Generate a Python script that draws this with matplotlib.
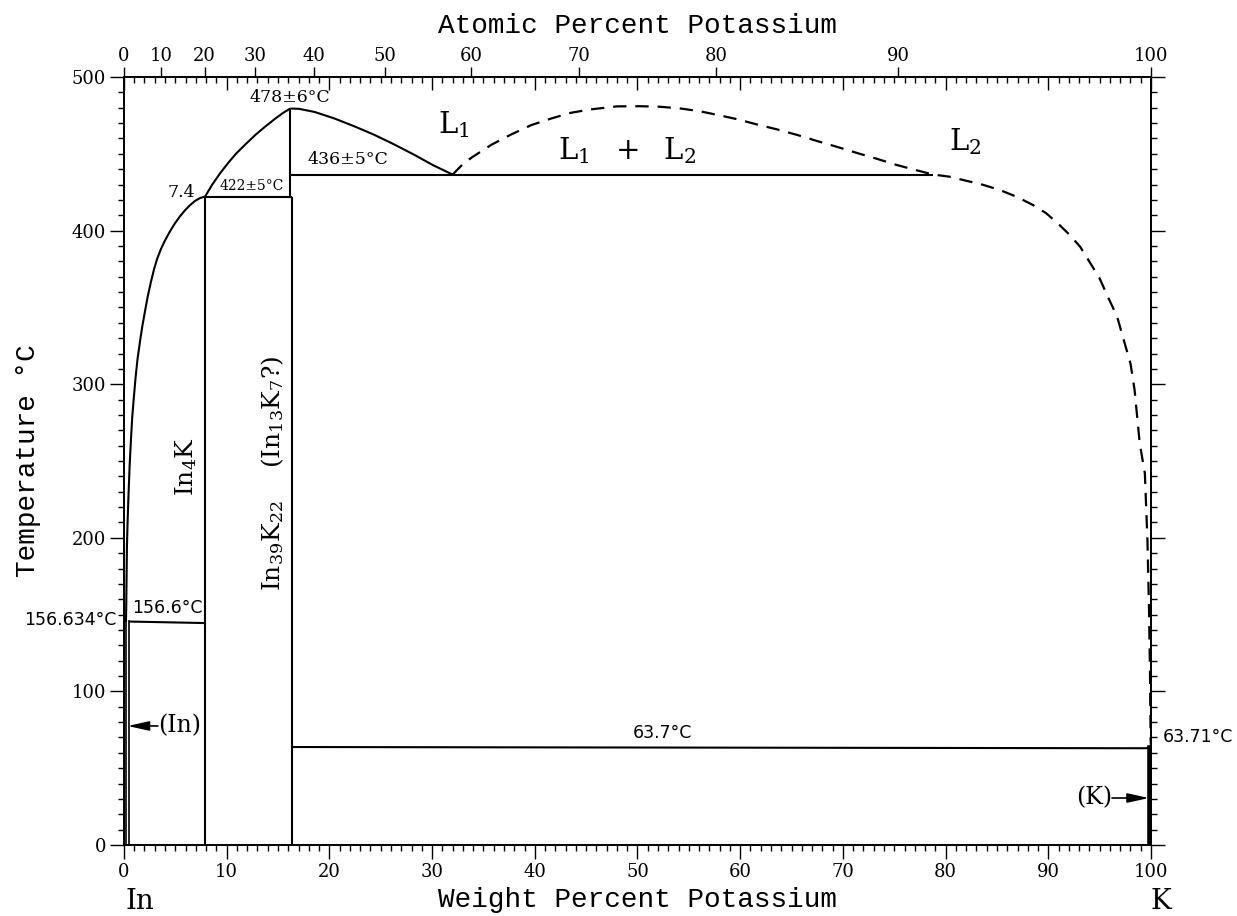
import numpy as np
import matplotlib
matplotlib.use("Agg")
import matplotlib.pyplot as plt

plt.rcParams['mathtext.fontset'] = 'dejavuserif'
plt.rcParams['font.family'] = 'DejaVu Serif'

# ---- data (wt% K, temperature C) ----
# In-rich liquidus up to the In13K7 maximum
liq_in_w = [0.2, 0.23, 0.26, 0.29, 0.36, 0.45, 0.55, 0.68, 0.81, 0.97, 1.14, 1.33, 1.56, 1.78,
            2.04, 2.31, 2.63, 2.95, 3.25, 3.6, 3.99, 4.48, 4.97, 5.45, 5.94, 6.43, 6.91, 7.4, 7.9,
            8.6, 9.39, 10.15, 10.9, 11.88, 12.84, 13.8, 14.75, 15.5, 16.2]
liq_in_t = [145.4, 159.5, 176.9, 194.2, 211.6, 229, 246.3, 263.7, 278.8, 291.9, 304.9, 316.8, 327.7, 337.4,
            347.2, 357, 366.7, 375.4, 382, 388, 393.5, 399.5, 404.8, 409.3, 413.2, 416.6, 419.3, 421.2, 422.2,
            430, 437.6, 444.1, 450, 456.5, 462.6, 468, 473, 476.7, 479.5]

# L1 from the maximum down to the monotectic
l1_w = [16.2, 17.05, 18.6, 20.5, 22.4, 24.3, 26.2, 28.2, 30.1, 32.0]
l1_t = [479.5, 479.3, 477.2, 473, 468, 462.6, 456.5, 449.6, 442.6, 436.5]

# miscibility gap and K-rich liquidus (dashed)
gap_w = [32.0, 32.95, 33.9, 35.8, 37.7, 39.65, 41.6, 43.5, 45.4, 48.0, 50.2, 52.1, 54.1, 56.0,
         57.9, 59.8, 61.7, 63.6, 65.6, 67.5, 69.4, 71.3, 73.2, 75.1, 77.0, 78.8, 80.4, 82.0,
         83.6, 85.3, 86.9, 88.5, 89.8, 91.1, 92.1, 93.1, 94.0, 95.0, 95.8, 96.7, 97.3, 98.0,
         98.4, 98.9, 99.4, 99.65, 99.8, 99.9, 99.96, 100]
gap_t = [436.5, 443, 447.8, 456, 462.6, 468.7, 473, 476.7, 478.9, 480.9, 481, 480.7, 479.6, 477.8,
         475.2, 472.4, 469, 465.9, 462.2, 458.3, 454.6, 450.7, 447, 443, 439.6, 436.5, 435.1, 432.5,
         429.9, 426.4, 422.1, 416.7, 411.3, 403.6, 397.1, 389.5, 379.8, 368.8, 356.9, 344, 329.8, 313.5,
         296.2, 261.5, 242, 198.6, 155, 111.6, 68.4, 63.7]

mono_w = [16.2, 78.8]
mono_t = [436.5, 436.5]
peri_w = [7.9, 16.4]
peri_t = [422.2, 422.2]
eut_w = [0.45, 7.9]
eut_t = [145.5, 144.5]
eut2_w = [16.4, 99.5, 99.85]
eut2_t = [63.8, 63.0, 63.7]

in4k_w = 7.9
in39k22_w = 16.4
in13k7_w = 16.2
in_ss_w = [0.18, 0.45]
in_ss_top = 146
k_w = 99.85
k_top = 63.7

atomic_ticks = [0, 10, 20, 30, 40, 50, 60, 70, 80, 90, 100]
M_K, M_IN = 39.098, 114.818


def at_to_wt(a):
    a = np.asarray(a, dtype=float)
    return 100 * a * M_K / (a * M_K + (100 - a) * M_IN)


fig = plt.figure(figsize=(12.37, 9.16), dpi=100)
ax = fig.add_axes([0.1002, 0.0775, 0.8303, 0.8384])
lw = 1.5
k = dict(color='black', lw=lw, solid_capstyle='butt', solid_joinstyle='round')

ax.plot(liq_in_w, liq_in_t, **k)
ax.plot(l1_w, l1_t, **k)
ax.plot(gap_w, gap_t, color='black', lw=1.6, dashes=(6, 4))
ax.plot(mono_w, mono_t, **k)
ax.plot(peri_w, peri_t, **k)
ax.plot(eut_w, eut_t, **k)
ax.plot(eut2_w, eut2_t, **k)
ax.plot([in4k_w, in4k_w], [0, 422.2], **k)
ax.plot([in39k22_w, in39k22_w], [0, 422.2], **k)
ax.plot([in13k7_w, in13k7_w], [422.2, 479.5], **k)
for w in in_ss_w:
    ax.plot([w, w], [0, in_ss_top], color='black', lw=1.2)
ax.plot([k_w, k_w], [0, k_top], color='black', lw=2.6)

# labels inside
serif = 'DejaVu Serif'
ax.text(16.2, 487, '478±6°C', ha='center', va='center', fontsize=12.5, family=serif)
ax.text(21.8, 446, '436±5°C', ha='center', va='center', fontsize=12.5, family=serif)
ax.text(12.4, 429, '422±5°C', ha='center', va='center', fontsize=10, family=serif)
ax.text(5.6, 425, '7.4', ha='center', va='center', fontsize=12.5, family=serif)
ax.text(32.1, 469, r'$\mathrm{L}_1$', ha='center', va='center', fontsize=21)
ax.text(49.0, 452, r'$\mathrm{L}_1\ \ +\ \ \mathrm{L}_2$', ha='center', va='center', fontsize=21)
ax.text(81.9, 458, r'$\mathrm{L}_2$', ha='center', va='center', fontsize=21)
ax.text(6.0, 246.6, r'$\mathrm{In}_4\mathrm{K}$', rotation=90, ha='center', va='center', fontsize=18)
ax.text(14.5, 282, r'$(\mathrm{In}_{13}\mathrm{K}_{7}?)$', rotation=90, ha='center', va='center', fontsize=18)
ax.text(14.5, 194.6, r'$\mathrm{In}_{39}\mathrm{K}_{22}$', rotation=90, ha='center', va='center', fontsize=18)
ax.text(4.2, 154, '156.6°C', ha='center', va='center', fontsize=12.5, family='DejaVu Sans')
ax.text(-0.75, 146.5, '156.634°C', ha='right', va='center', fontsize=12.5, family='DejaVu Sans', clip_on=False)
ax.text(52.4, 73, '63.7°C', ha='center', va='center', fontsize=12.5, family='DejaVu Sans')
ax.text(101.1, 70.3, '63.71°C', ha='left', va='center', fontsize=12.5, family='DejaVu Sans', clip_on=False)
ax.text(5.4, 77.5, '(In)', ha='center', va='center', fontsize=17)
ax.text(94.5, 30.6, '(K)', ha='center', va='center', fontsize=17)
arrow = dict(arrowstyle='-|>,head_length=1.0,head_width=0.22', color='black', lw=1.2,
             mutation_scale=13, shrinkA=0, shrinkB=0)
ax.annotate('', xy=(0.35, 77.5), xytext=(3.3, 77.5), arrowprops=arrow)
ax.annotate('', xy=(99.8, 30.6), xytext=(96.2, 30.6), arrowprops=arrow)

mono = 'Liberation Mono'
ax.text(1.55, -37, 'In', ha='center', va='center', fontsize=20, family=serif, clip_on=False)
ax.text(101.0, -37, 'K', ha='center', va='center', fontsize=20, family=serif, clip_on=False)
ax.set_xlabel('Weight Percent Potassium', fontsize=20, family=mono, labelpad=4)
ax.set_ylabel('Temperature °C', fontsize=20, family=mono, labelpad=22)

# axes and ticks
ax.set_xlim(0, 100)
ax.set_ylim(0, 500)
ax.set_xticks(np.arange(0, 101, 10))
ax.set_xticks(np.arange(0, 101, 1), minor=True)
ax.set_yticks(np.arange(0, 501, 100))
ax.set_yticks(np.arange(0, 501, 10), minor=True)
ax.tick_params(axis='x', which='both', direction='out', top=False, labelsize=13, pad=3)
ax.tick_params(axis='y', which='both', direction='out', left=True, right=True, labelsize=13, pad=3)
ax.tick_params(which='major', length=10, width=1)
ax.tick_params(which='minor', length=4.5, width=1)
for s in ax.spines.values():
    s.set_linewidth(1.1)

# top: weight ticks pointing in
ax_in = ax.twiny()
ax_in.set_xlim(0, 100)
ax_in.set_xticks(np.arange(0, 101, 10))
ax_in.set_xticks(np.arange(0, 101, 1), minor=True)
ax_in.tick_params(axis='x', which='both', direction='in', labeltop=False)
ax_in.tick_params(which='major', length=9, width=1)
ax_in.tick_params(which='minor', length=4.5, width=1)

# top: atomic percent scale
ax_at = ax.twiny()
ax_at.set_xlim(0, 100)
ax_at.set_xticks(at_to_wt(atomic_ticks))
ax_at.set_xticklabels([str(a) for a in atomic_ticks])
ax_at.tick_params(axis='x', which='major', direction='out', length=7, width=1, labelsize=13, pad=2)
ax_at.set_xlabel('Atomic Percent Potassium', fontsize=20, family=mono, labelpad=10)
for a in (ax_in, ax_at):
    for s in a.spines.values():
        s.set_linewidth(1.1)

fig.savefig('out.png', dpi=100)
